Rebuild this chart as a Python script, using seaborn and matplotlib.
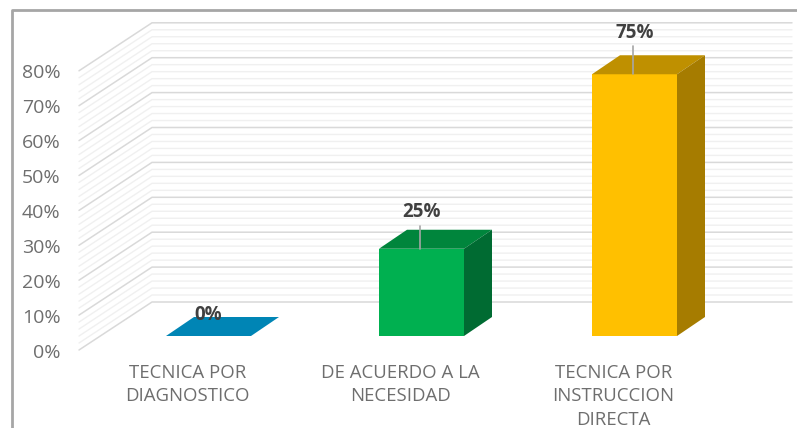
import matplotlib.pyplot as plt
import seaborn as sns

categories = ["TECNICA POR\nDIAGNOSTICO", "DE ACUERDO A LA\nNECESIDAD", "TECNICA POR\nINSTRUCCION\nDIRECTA"]
values = [0, 25, 75]
value_labels = ["0%", "25%", "75%"]
front_colors = ["#0085B5", "#00B050", "#FFC000"]
top_colors = ["#0085B5", "#00853C", "#BF9000"]
side_colors = ["#006488", "#006B32", "#A67C00"]
major_ticks = [0, 10, 20, 30, 40, 50, 60, 70, 80]
minor_ticks = [v for v in range(0, 81, 2) if v % 10 != 0]

W, H = 797, 428
PX_X = 213.0   # pixels per category
PX_Y = 3.49    # pixels per percent
X0, Y0 = 208.5, 336.0  # first bar centre, floor of the bars
BAR_W = 85 / PX_X
# how far above the bar top the leader ends and the label sits, pixels
leader_px = [0, 23, 28]
label_px = [20.5, 36.5, 41]

# depth offsets in data units
def dx(px):
    return px / PX_X

def dy(px):
    return px / PX_Y

sns.set_style("white")
plt.rcParams["font.family"] = ["Open Sans", "DejaVu Sans"]

fig, ax = plt.subplots(figsize=(W / 100, H / 100), dpi=100)
ax.set_position([0, 0, 1, 1])

sns.barplot(x=categories, y=values, hue=categories, palette=front_colors, dodge=False,
            width=BAR_W, saturation=1, legend=False, ax=ax, zorder=3, linewidth=0)

ax.set_xlim(-X0 / PX_X, (W - X0) / PX_X)
ax.set_ylim((Y0 - H) / PX_Y, Y0 / PX_Y)

# floor corners of the left wall and the far wall
x_front = (79 - X0) / PX_X
x_back = (152 - X0) / PX_X
x_end = (792 - X0) / PX_X
y_front = dy(-14)
y_back = dy(34)


def wall_line(v, color, lw):
    ax.plot([x_front, x_back, x_end], [v + y_front, v + y_back, v + y_back],
            color=color, lw=lw, zorder=1, solid_joinstyle="miter")


for v in minor_ticks:
    wall_line(v, "#F0F0F0", 1.0)
for v in major_ticks:
    wall_line(v, "#D9D9D9", 1.1)
    ax.text((60.5 - X0) / PX_X, v + dy(-16.5), f"{v}%", ha="right", va="center",
            fontsize=14, color="#6E6E6E", zorder=5)

# top and side faces of the bars
for i, v in enumerate(values):
    l, r = i - BAR_W / 2, i + BAR_W / 2
    ox, oy = dx(28), dy(19)
    ax.fill([l, r, r + ox, l + ox], [v, v, v + oy, v + oy], color=top_colors[i], lw=0, zorder=3)
    if v > 0:
        ax.fill([r, r + ox, r + ox, r], [0, oy, v + oy, v], color=side_colors[i], lw=0, zorder=3)

# data labels
for i, v in enumerate(values):
    if v > 0:
        ax.plot([i - 0.005, i - 0.005], [v, v + dy(leader_px[i])], color="#A6A6A6", lw=1.2, zorder=4)
    ax.text(i, v + dy(label_px[i]), value_labels[i], ha="center", va="center",
            fontsize=13.5, fontweight="bold", color="#404040", zorder=5)

# category labels, sitting on the front plane
for i, name in enumerate(categories):
    ax.text(i + dx(-21), dy(-28), name, ha="center", va="top", fontsize=13.4,
            color="#6E6E6E", linespacing=1.38, zorder=5)

ax.axis("off")

# chart border
ax.plot([(11.5 - X0) / PX_X, (11.5 - X0) / PX_X, (W - X0) / PX_X],
        [(Y0 - H) / PX_Y, (Y0 - 9.5) / PX_Y, (Y0 - 9.5) / PX_Y],
        color="#A6A6A6", lw=2, zorder=6)

plt.savefig("out.png", dpi=100)
